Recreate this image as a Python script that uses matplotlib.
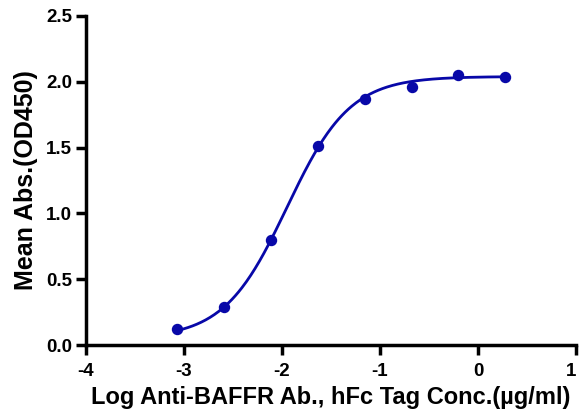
import numpy as np
import matplotlib
matplotlib.use("Agg")
import matplotlib.pyplot as plt

# Data (log concentration, mean absorbance)
log_conc = [-3.07, -2.59, -2.11, -1.63, -1.15, -0.67, -0.20, 0.28]
mean_abs = [0.12, 0.29, 0.80, 1.51, 1.87, 1.96, 2.05, 2.04]

# 4PL fit parameters
fit_bottom = 0.05
fit_top = 2.04
fit_logec50 = -1.95
fit_hill = 1.35

x_ticks = [-4, -3, -2, -1, 0, 1]
y_ticks = [0.0, 0.5, 1.0, 1.5, 2.0, 2.5]

plt.rcParams['font.family'] = ['Liberation Sans', 'DejaVu Sans']

fig = plt.figure(figsize=(5.79, 4.16), dpi=100)
ax = fig.add_axes([86/579, 1-345/416, (576-86)/579, (345-16)/416])

color = '#0808A8'
xs = np.linspace(min(log_conc), max(log_conc), 300)
ys = fit_bottom + (fit_top - fit_bottom) / (1 + 10 ** ((fit_logec50 - xs) * fit_hill))
ax.plot(xs, ys, color=color, lw=2.0, zorder=2)
ax.plot(log_conc, mean_abs, 'o', color=color, ms=7.2, zorder=3)

ax.set_xlim(-4, 1)
ax.set_ylim(0, 2.5)
ax.set_xticks(x_ticks)
ax.set_xticklabels([str(t) for t in x_ticks])
ax.set_yticks(y_ticks)
ax.set_yticklabels([f"{t:.1f}" for t in y_ticks])

for s in ['top', 'right']:
    ax.spines[s].set_visible(False)
for s in ['left', 'bottom']:
    ax.spines[s].set_linewidth(2.5)
    ax.spines[s].set_clip_on(False)
ax.tick_params(axis='both', direction='out', length=7, width=2.5, labelsize=13.5)
ax.tick_params(axis='x', pad=6)
ax.tick_params(axis='y', pad=3)
for lab in ax.get_xticklabels() + ax.get_yticklabels():
    lab.set_fontweight('bold')
ax.get_xticklabels()[-1].set_horizontalalignment('right')

ax.set_xlabel('Log Anti-BAFFR Ab., hFc Tag Conc.(µg/ml)', fontsize=17, fontweight='bold', labelpad=4)
ax.set_ylabel('Mean Abs.(OD450)', fontsize=18, fontweight='bold', labelpad=6)

fig.savefig('out.png', dpi=100)
